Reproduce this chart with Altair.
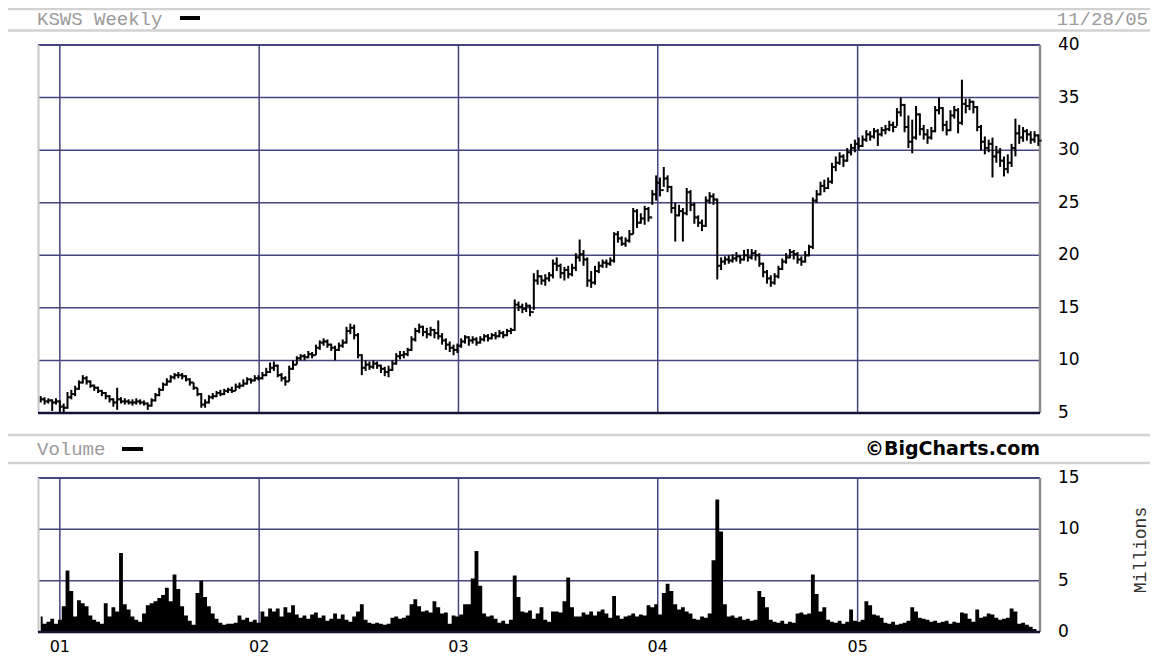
import altair as alt
import pandas as pd

# ---------------- data ----------------
close_ = [
    6.3, 6.1, 6.2, 6.0, 6.1, 5.6, 5.5, 6.5, 6.8, 7.3,
    7.9, 8.3, 8.0, 7.6, 7.4, 7.1, 6.9, 6.6, 6.3, 6.0,
    6.3, 6.1, 6.1, 6.0, 6.0, 6.1, 6.0, 5.9, 5.7, 6.2,
    6.7, 7.2, 7.7, 8.0, 8.4, 8.6, 8.6, 8.5, 8.2, 7.9,
    7.4, 6.8, 5.8, 6.0, 6.5, 6.6, 6.9, 6.8, 7.1, 7.2,
    7.1, 7.5, 7.6, 7.8, 8.2, 8.1, 8.3, 8.3, 8.6, 8.9,
    9.3, 9.5, 8.6, 8.3, 8.0, 9.2, 9.6, 10.2, 10.4, 10.3,
    10.6, 10.5, 11.2, 11.7, 11.8, 11.5, 11.2, 11.0, 11.4, 11.7,
    12.8, 13.1, 12.4, 10.5, 9.3, 9.6, 9.4, 9.7, 9.5, 9.2,
    8.9, 9.1, 9.7, 10.4, 10.5, 10.6, 11.0, 12.0, 12.8, 13.2,
    12.7, 12.5, 12.9, 12.6, 12.3, 11.9, 11.5, 11.2, 11.0, 11.4,
    11.8, 12.2, 11.9, 12.0, 11.7, 12.0, 12.3, 12.1, 12.4, 12.3,
    12.6, 12.4, 12.8, 12.9, 15.3, 15.1, 14.9, 15.2, 14.6, 17.6,
    18.0, 17.6, 17.8, 18.1, 19.2, 19.0, 18.3, 18.6, 18.2, 18.8,
    19.8, 20.1, 19.6, 17.6, 17.4, 18.5, 19.0, 19.3, 19.2, 19.5,
    22.0, 21.6, 21.1, 21.4, 22.0, 24.2, 23.1, 23.5, 24.4, 23.6,
    25.8, 26.9, 26.2, 27.3, 26.5, 24.5, 23.8, 24.2, 24.0, 26.0,
    24.8, 23.6, 23.1, 22.8, 25.2, 25.6, 25.3, 19.0, 19.4, 19.6,
    19.5, 19.7, 19.9, 19.6, 20.0, 19.8, 20.2, 20.0, 19.2, 18.4,
    17.8, 17.4, 18.0, 18.7, 19.4, 19.8, 20.3, 20.1, 19.6, 19.4,
    20.0, 20.8, 25.2, 25.8, 26.6, 26.4, 27.0, 28.4, 28.8, 29.4,
    29.0, 29.8, 30.2, 30.6, 30.4, 31.0, 31.5, 31.3, 31.8, 31.5,
    31.9, 32.0, 32.4, 32.2, 33.6, 34.3, 32.2, 30.8, 31.2, 33.4,
    32.0, 31.5, 31.2, 31.8, 33.8, 34.0, 32.4, 31.9, 33.3, 33.8,
    32.6, 34.4, 34.2, 34.6, 34.1, 32.2, 30.8, 30.2, 30.6, 29.4,
    29.8, 29.0, 28.2, 28.8, 30.2, 31.6, 31.2, 31.8, 31.5, 31.0,
    31.4, 30.9,
]
high_ = [
    6.6, 6.5, 6.4, 6.3, 6.4, 6.2, 5.9, 7.0, 7.2, 7.6,
    8.1, 8.6, 8.5, 8.1, 7.7, 7.5, 7.2, 7.0, 6.7, 6.4,
    7.4, 6.5, 6.4, 6.3, 6.3, 6.4, 6.3, 6.2, 6.0, 6.4,
    6.9, 7.4, 7.9, 8.3, 8.6, 8.8, 8.9, 8.8, 8.6, 8.3,
    7.9, 7.4, 6.9, 6.3, 6.7, 6.9, 7.1, 7.2, 7.3, 7.4,
    7.5, 7.8, 7.9, 8.2, 8.4, 8.3, 8.6, 8.6, 8.9, 9.3,
    9.8, 9.9, 9.6, 8.8, 8.5, 9.5, 10.0, 10.4, 10.6, 10.6,
    10.9, 10.8, 11.5, 11.9, 12.1, 12.0, 11.6, 11.4, 11.7, 12.0,
    13.2, 13.5, 13.4, 12.6, 10.6, 10.0, 9.9, 10.0, 9.9, 9.6,
    9.4, 9.5, 10.0, 10.7, 10.9, 10.9, 11.2, 12.3, 13.1, 13.5,
    13.3, 13.1, 13.2, 13.0, 13.8, 12.6, 12.1, 11.8, 11.5, 11.6,
    12.1, 12.4, 12.3, 12.3, 12.2, 12.3, 12.5, 12.5, 12.6, 12.7,
    12.9, 12.8, 13.0, 13.1, 15.8, 15.6, 15.4, 15.5, 15.3, 18.3,
    18.6, 18.1, 18.2, 18.4, 19.6, 19.8, 19.2, 18.9, 19.0, 19.2,
    20.2, 21.5, 20.5, 19.8, 18.5, 19.0, 19.4, 19.6, 19.6, 19.8,
    22.2, 22.3, 21.8, 21.7, 22.4, 24.5, 24.4, 24.0, 24.7, 24.6,
    26.2, 27.6, 27.4, 28.4, 27.6, 26.6, 25.0, 24.8, 24.5, 26.4,
    26.2, 25.0, 23.8, 23.4, 25.6, 26.0, 25.9, 25.4, 19.8, 19.9,
    20.0, 20.1, 20.3, 20.0, 20.5, 20.6, 20.6, 20.5, 20.2, 19.3,
    18.6, 18.1, 18.3, 19.0, 19.7, 20.2, 20.6, 20.5, 20.3, 19.9,
    20.4, 21.0, 25.5, 26.2, 27.0, 27.2, 27.4, 28.8, 29.4, 29.8,
    29.6, 30.2, 30.6, 31.0, 31.2, 31.4, 31.9, 31.8, 32.1, 32.0,
    32.2, 32.4, 32.8, 32.7, 34.0, 35.0, 34.4, 33.3, 32.9, 34.2,
    33.5, 32.4, 32.0, 32.2, 34.2, 35.0, 34.1, 32.8, 33.8, 34.2,
    34.0, 36.7, 34.9, 34.9, 34.7, 34.2, 32.4, 31.3, 31.0, 31.2,
    30.4, 30.2, 29.4, 29.6, 30.6, 33.0, 32.4, 32.2, 32.0, 31.8,
    31.8, 31.5,
]
low_ = [
    6.0, 5.8, 5.9, 5.2, 5.8, 5.0, 5.0, 5.4, 6.3, 6.6,
    7.2, 7.8, 7.7, 7.4, 7.1, 6.9, 6.6, 6.3, 6.0, 5.6,
    5.3, 5.9, 5.8, 5.8, 5.7, 5.8, 5.8, 5.7, 5.3, 5.6,
    6.1, 6.6, 7.1, 7.6, 7.9, 8.2, 8.3, 8.2, 8.0, 7.6,
    7.2, 6.6, 5.5, 5.5, 5.9, 6.3, 6.5, 6.6, 6.7, 6.9,
    6.9, 7.1, 7.3, 7.5, 7.7, 7.8, 8.0, 8.1, 8.2, 8.5,
    8.8, 9.0, 8.4, 8.0, 7.6, 8.0, 9.1, 9.6, 10.0, 10.0,
    10.2, 10.2, 10.5, 11.0, 11.4, 11.2, 10.9, 10.0, 10.9, 11.2,
    11.6, 12.5, 12.0, 10.2, 8.6, 9.0, 9.1, 9.2, 9.2, 8.8,
    8.5, 8.4, 9.0, 9.6, 10.1, 10.2, 10.4, 10.9, 11.8, 12.6,
    12.3, 12.1, 12.3, 12.1, 12.0, 11.5, 11.0, 10.8, 10.5, 10.7,
    11.2, 11.6, 11.4, 11.6, 11.4, 11.6, 11.8, 11.8, 12.0, 12.0,
    12.2, 12.1, 12.3, 12.5, 12.8, 14.7, 14.5, 14.6, 14.2, 14.8,
    17.2, 17.2, 17.1, 17.5, 17.8, 18.5, 17.8, 17.6, 17.8, 18.0,
    18.5, 19.4, 19.0, 17.0, 16.9, 17.2, 18.3, 18.8, 18.8, 19.0,
    19.3, 21.2, 20.9, 20.8, 21.2, 22.0, 22.6, 23.0, 22.9, 23.2,
    24.8, 25.2, 25.6, 26.5, 26.0, 24.0, 21.3, 23.7, 21.3, 23.8,
    24.2, 23.0, 22.7, 22.3, 22.7, 24.9, 24.8, 17.7, 18.6, 19.1,
    19.2, 19.3, 19.4, 19.2, 19.5, 19.4, 19.6, 19.5, 18.9, 17.9,
    17.3, 17.0, 17.2, 17.8, 18.6, 19.2, 19.7, 19.6, 19.2, 19.0,
    19.3, 19.9, 20.6, 25.0, 25.7, 26.0, 26.3, 26.8, 28.0, 28.6,
    28.4, 28.9, 29.5, 29.8, 30.0, 30.3, 30.8, 30.9, 31.1, 30.4,
    31.3, 31.5, 31.8, 31.7, 32.3, 33.2, 31.7, 30.2, 29.7, 31.0,
    31.4, 31.0, 30.6, 31.0, 31.7, 33.4, 31.8, 31.4, 31.8, 33.0,
    31.6, 32.4, 33.5, 33.8, 33.5, 31.8, 30.0, 29.6, 29.8, 27.4,
    28.8, 28.4, 27.5, 27.8, 28.4, 29.4, 30.6, 30.8, 30.9, 30.6,
    30.7, 30.4,
]
volume_ = [  # millions of shares
    1.5, 0.8, 1.0, 1.3, 0.8, 1.2, 2.5, 6.0, 4.0, 1.5,
    3.1, 2.8, 2.5, 1.6, 1.2, 1.0, 0.8, 2.8, 1.5, 2.4,
    2.0, 7.7, 2.7, 2.2, 1.5, 1.2, 1.0, 1.8, 2.6, 2.8,
    3.0, 3.3, 3.6, 4.3, 3.0, 5.6, 4.2, 2.5, 1.6, 1.1,
    0.7, 3.8, 5.0, 3.4, 2.5, 1.8, 1.3, 0.9, 0.7, 0.8,
    0.8, 0.9, 1.6, 1.2, 1.4, 1.0, 1.2, 0.9, 2.0, 1.5,
    2.3, 2.0, 2.3, 1.5, 2.4, 1.9, 2.6, 1.7, 1.4, 1.6,
    1.3, 1.7, 1.9, 1.4, 1.6, 1.1, 1.3, 1.8, 1.3, 1.7,
    1.2, 1.0, 1.5, 2.0, 2.7, 1.2, 0.9, 0.8, 0.9, 0.8,
    0.7, 0.8, 1.4, 1.5, 1.3, 1.4, 1.6, 2.7, 3.2, 2.5,
    2.0, 2.1, 1.9, 3.0, 2.4, 1.8, 1.9, 0.8, 1.6, 1.5,
    1.7, 2.7, 2.7, 5.2, 7.9, 4.5, 1.8, 1.5, 1.6, 1.3,
    0.9, 1.1, 0.8, 1.2, 5.5, 3.4, 2.0, 1.9, 2.1, 1.3,
    1.8, 2.4, 1.2, 1.0, 2.0, 2.0, 1.9, 3.0, 5.3, 2.4,
    1.5, 1.5, 1.9, 1.7, 2.0, 1.6, 2.0, 2.2, 1.8, 1.4,
    3.5, 1.6, 1.3, 1.5, 1.6, 1.8, 1.5, 1.7, 1.6, 2.6,
    2.4, 2.7, 1.7, 3.8, 4.7, 4.0, 2.7, 2.2, 2.4, 2.0,
    1.8, 1.3, 1.2, 1.5, 1.4, 1.8, 7.0, 12.9, 9.8, 2.7,
    1.5, 1.6, 1.4, 1.5, 1.2, 1.3, 1.1, 1.2, 4.0, 3.4,
    2.4, 1.2, 1.0, 0.9, 1.1, 0.8, 1.0, 0.9, 1.8, 1.9,
    1.7, 1.8, 5.6, 3.7, 2.0, 2.4, 1.2, 1.0, 0.9, 1.1,
    0.8, 1.0, 2.2, 1.1, 1.0, 1.2, 3.0, 2.6, 1.7, 1.6,
    1.4, 0.9, 0.8, 1.0, 0.7, 0.8, 0.9, 1.1, 2.4, 2.0,
    1.4, 1.3, 1.2, 1.0, 1.1, 0.9, 1.0, 1.1, 0.8, 1.0,
    0.9, 1.9, 1.8, 1.3, 1.0, 2.2, 1.4, 1.5, 1.8, 1.7,
    1.4, 1.2, 1.3, 1.4, 2.3, 2.0, 0.8, 0.9, 0.7, 0.5,
    0.3, 0.1,
]
year_labels = ["01", "02", "03", "04", "05"]
year_starts = ["2001-01-01", "2002-01-01", "2003-01-01", "2004-01-01", "2005-01-01"]
price_ticks = [5, 10, 15, 20, 25, 30, 35, 40]
price_grid = [10, 15, 20, 25, 30, 35]
volume_ticks = [0, 5, 10, 15]
volume_grid = [5, 10]

# weekly bars, first week starting 2000-11-27
n = min(len(close_), len(high_), len(low_), len(volume_))
first_week = pd.Timestamp("2000-11-27")
dates = [(first_week + pd.Timedelta(weeks=i)).strftime("%Y-%m-%d") for i in range(n)]
bars = pd.DataFrame({"date": dates, "close": close_[:n], "high": high_[:n],
                     "low": low_[:n], "volume": volume_[:n]})
years = pd.DataFrame({"date": year_starts, "label": year_labels})
ptick_df = pd.DataFrame({"v": price_ticks, "t": [str(v) for v in price_ticks]})
vtick_df = pd.DataFrame({"v": volume_ticks, "t": [str(v) for v in volume_ticks]})
pgrid_df = pd.DataFrame({"v": price_grid})
vgrid_df = pd.DataFrame({"v": volume_grid})
one = pd.DataFrame({"k": [0]})

# ---------------- style ----------------
W, H = 1002, 587
NAVY = "#45457f"
BAND = "#d2d2d2"
GREY_TXT = "#9a9a9a"
MONO = "Liberation Mono"
SANS = "DejaVu Sans"

xscale = alt.Scale(domain=[alt.DateTime(year=2000, month=11, date=22, utc=True),
                           alt.DateTime(year=2005, month=12, date=1, utc=True)])
pscale = alt.Scale(domain=[5, 40], range=[368, 0], nice=False, zero=False)
vscale = alt.Scale(domain=[0, 15], range=[587, 433], nice=False, zero=True)

X = alt.X("date:T", scale=xscale, axis=None)


def py(field):
    return alt.Y(field, scale=pscale, axis=None)


def vy(field):
    return alt.Y(field, scale=vscale, axis=None)


def hband(ypx):
    return alt.Chart(one).mark_rule(color=BAND, strokeWidth=2.5).encode(
        x=alt.value(-30), x2=alt.value(1112), y=alt.value(ypx))


def txt(s, xpx, ypx, **kw):
    return alt.Chart(one).mark_text(**kw).encode(
        x=alt.value(xpx), y=alt.value(ypx), text=alt.value(s))


def swatch(x1, x2, y1, y2):
    return alt.Chart(one).mark_rect(color="black").encode(
        x=alt.value(x1), x2=alt.value(x2), y=alt.value(y1), y2=alt.value(y2))


layers = []

# header bands
layers += [hband(-36), hband(-14.5), hband(390), hband(418)]
layers += [
    txt("KSWS Weekly", -1, -26, align="left", baseline="middle", font=MONO,
        fontSize=19, color=GREY_TXT),
    swatch(142, 162, -29, -25),
    txt("11/28/05", 1110, -26, align="right", baseline="middle", font=MONO,
        fontSize=19, color=GREY_TXT),
    txt("Volume", -1, 404, align="left", baseline="middle", font=MONO,
        fontSize=19, color=GREY_TXT),
    swatch(84, 105, 402, 406),
    txt("\u00a9BigCharts.com", 1002, 404, align="right", baseline="middle",
        font=SANS, fontSize=19, fontWeight="bold", color="black"),
    txt("Millions", 1103, 505, align="center", baseline="middle", font=MONO,
        fontSize=18, color="#333333", angle=270),
]

# price panel grid + frame
layers += [
    alt.Chart(pgrid_df).mark_rule(color=NAVY, strokeWidth=1.5).encode(y=py("v:Q")),
    alt.Chart(years).mark_rule(color=NAVY, strokeWidth=1.5).encode(
        x=X, y=alt.YDatum(5, scale=pscale, axis=None), y2=alt.Y2Datum(40)),
    alt.Chart(one).mark_rule(color=NAVY, strokeWidth=2).encode(
        y=alt.YDatum(40, scale=pscale, axis=None)),
    alt.Chart(one).mark_rule(color="#c8c8c8", strokeWidth=2).encode(
        x=alt.value(0.5), y=alt.YDatum(5, scale=pscale, axis=None), y2=alt.Y2Datum(40)),
    alt.Chart(one).mark_rule(color="#8c8c8c", strokeWidth=2.5).encode(
        x=alt.value(W), y=alt.YDatum(5, scale=pscale, axis=None), y2=alt.Y2Datum(40)),
]

# volume panel grid + frame
layers += [
    alt.Chart(vgrid_df).mark_rule(color=NAVY, strokeWidth=1.5).encode(y=vy("v:Q")),
    alt.Chart(years).mark_rule(color=NAVY, strokeWidth=1.5).encode(
        x=X, y=alt.YDatum(0, scale=vscale, axis=None), y2=alt.Y2Datum(15)),
    alt.Chart(one).mark_rule(color=NAVY, strokeWidth=2).encode(
        y=alt.YDatum(15, scale=vscale, axis=None)),
    alt.Chart(one).mark_rule(color="#c8c8c8", strokeWidth=2).encode(
        x=alt.value(0.5), y=alt.YDatum(0, scale=vscale, axis=None), y2=alt.Y2Datum(15)),
    alt.Chart(one).mark_rule(color="#8c8c8c", strokeWidth=2.5).encode(
        x=alt.value(W), y=alt.YDatum(0, scale=vscale, axis=None), y2=alt.Y2Datum(15)),
]

# price bars (high-low, open/close ticks)
base = alt.Chart(bars)
layers += [
    base.mark_rule(color="black", strokeWidth=2).encode(x=X, y=py("low:Q"), y2="high:Q"),
    base.mark_tick(color="black", orient="horizontal", size=3.5, thickness=2,
                   xOffset=1.75).encode(x=X, y=py("close:Q")),
    base.transform_window(open="lag(close)", sort=[alt.SortField("date")]).mark_tick(
        color="black", orient="horizontal", size=3.5, thickness=2, xOffset=-1.75
    ).encode(x=X, y=py("open:Q")),
]

# volume area
layers += [
    base.mark_area(color="black", interpolate="step", opacity=1).encode(
        x=X, y=vy("volume:Q")),
]

# bottom borders (drawn over data)
layers += [
    alt.Chart(one).mark_rule(color="#111133", strokeWidth=2.5).encode(
        y=alt.YDatum(5, scale=pscale, axis=None)),
    alt.Chart(one).mark_rule(color="#111133", strokeWidth=2.5).encode(
        y=alt.YDatum(0, scale=vscale, axis=None)),
]

# tick labels
layers += [
    alt.Chart(ptick_df).mark_text(align="left", baseline="middle", font=SANS,
                                  fontSize=17, color="black").encode(
        x=alt.value(1020), y=py("v:Q"), text="t:N"),
    alt.Chart(vtick_df).mark_text(align="left", baseline="middle", font=SANS,
                                  fontSize=17, color="black").encode(
        x=alt.value(1020), y=vy("v:Q"), text="t:N"),
    alt.Chart(years).mark_text(align="center", baseline="middle", font=SANS,
                               fontSize=16, color="black").encode(
        x=X, y=alt.value(602), text="label:N"),
]

chart = alt.layer(*layers).resolve_scale(y="independent").properties(
    width=W, height=H,
    padding={"left": 30, "top": 37, "right": 110, "bottom": 26},
    autosize="none", background="white",
).configure_view(stroke=None)

chart.save("out.html", embed_options={"renderer": "svg", "actions": False})
